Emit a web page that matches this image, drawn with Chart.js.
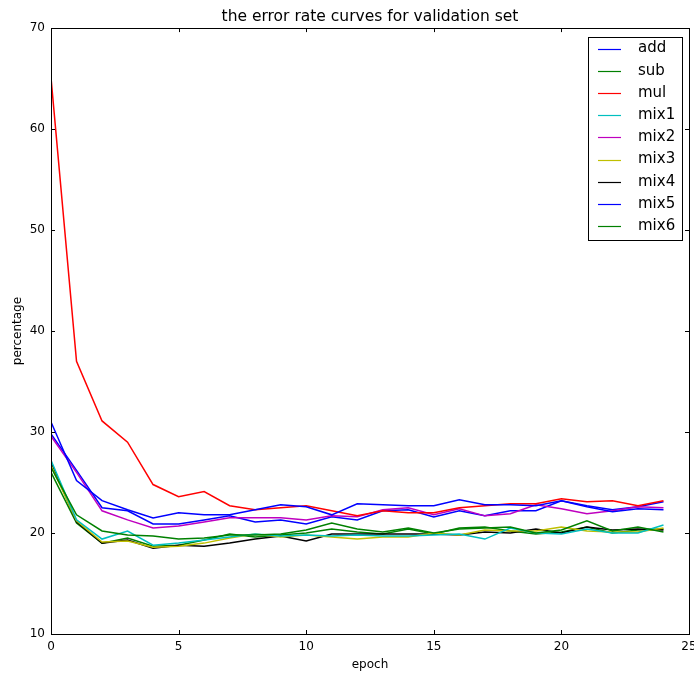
<!DOCTYPE html>
<html>
<head>
    <title>Error Rate Curves</title>
    <script src="https://cdn.jsdelivr.net/npm/chart.js"></script>
    <style>
        body { margin: 0; background: #fff; }
    </style>
</head>
<body>
    <canvas id="errChart" width="694" height="673"></canvas>

    <script>
        const epochs = [0,1,2,3,4,5,6,7,8,9,10,11,12,13,14,15,16,17,18,19,20,21,22,23,24];
        const xTicks = [0, 5, 10, 15, 20, 25];
        const yTicks = [10, 20, 30, 40, 50, 60, 70];

        const add  = [31.0,25.2,23.2,22.3,21.5,22.0,21.8,21.8,22.3,22.8,22.6,21.8,22.9,22.8,22.7,22.7,23.3,22.8,22.8,22.7,23.2,22.6,22.1,22.4,22.3];
        const sub  = [26.5,21.8,20.2,19.8,19.7,19.4,19.5,19.8,19.8,19.9,20.3,21.0,20.4,20.1,20.5,20.0,20.4,20.5,20.6,20.0,20.3,21.2,20.2,20.6,20.1];
        const mul  = [65.1,37.0,31.1,29.0,24.8,23.6,24.1,22.7,22.3,22.5,22.7,22.2,21.7,22.2,22.0,22.0,22.5,22.7,22.9,22.9,23.4,23.1,23.2,22.7,23.2];
        const mix1 = [27.2,21.3,19.4,20.2,18.8,19.0,19.3,19.6,19.9,19.7,19.8,19.7,19.8,19.7,19.7,19.8,19.9,19.4,20.5,20.0,19.9,20.4,20.0,20.0,20.8];
        const mix2 = [29.6,26.0,22.2,21.3,20.5,20.7,21.1,21.5,21.5,21.5,21.3,21.7,21.6,22.3,22.5,21.8,22.4,21.7,21.9,22.8,22.4,21.9,22.2,22.6,22.5];
        const mix3 = [26.7,21.2,19.1,19.2,18.6,18.7,19.0,19.5,19.9,19.6,19.8,19.6,19.4,19.6,19.6,20.0,19.8,20.3,20.2,20.2,20.6,20.2,20.1,20.1,20.5];
        const mix4 = [27.0,21.1,19.0,19.3,18.5,18.8,18.7,19.0,19.4,19.7,19.2,19.9,19.9,19.9,19.9,19.9,19.8,20.1,20.0,20.4,20.0,20.6,20.3,20.4,20.3];
        const mix5 = [29.8,26.2,22.5,22.2,20.9,20.9,21.3,21.7,21.1,21.3,20.9,21.6,21.3,22.2,22.3,21.6,22.2,21.7,22.2,22.2,23.2,22.7,22.3,22.6,23.1];
        const mix6 = [26.0,21.0,19.0,19.5,18.7,18.8,19.3,19.9,19.6,19.8,20.0,20.4,20.1,19.9,20.4,19.9,20.5,20.6,20.2,19.9,20.1,20.6,20.0,20.3,20.4];

        const seriesNames = ['add', 'sub', 'mul', 'mix1', 'mix2', 'mix3', 'mix4', 'mix5', 'mix6'];
        const seriesValues = [add, sub, mul, mix1, mix2, mix3, mix4, mix5, mix6];
        const colors = ['#0000ff', '#008000', '#ff0000', '#00bfbf', '#bf00bf', '#bfbf00', '#000000', '#0000ff', '#008000'];

        const fontFamily = '"DejaVu Sans", sans-serif';

        // frame on all four sides plus inward ticks, matplotlib style
        const framePlugin = {
            id: 'frame',
            afterDraw(chart) {
                const ctx = chart.ctx;
                const a = chart.chartArea;
                const xs = chart.scales.x;
                const ys = chart.scales.y;
                ctx.save();
                ctx.strokeStyle = '#000';
                ctx.lineWidth = 1;
                ctx.strokeRect(Math.round(a.left) + 0.5, Math.round(a.top) + 0.5,
                    Math.round(a.right - a.left), Math.round(a.bottom - a.top));
                ctx.beginPath();
                xTicks.forEach(v => {
                    const px = Math.round(xs.getPixelForValue(v)) + 0.5;
                    ctx.moveTo(px, a.bottom); ctx.lineTo(px, a.bottom - 4);
                    ctx.moveTo(px, a.top); ctx.lineTo(px, a.top + 4);
                });
                yTicks.forEach(v => {
                    const py = Math.round(ys.getPixelForValue(v)) + 0.5;
                    ctx.moveTo(a.left, py); ctx.lineTo(a.left + 4, py);
                    ctx.moveTo(a.right, py); ctx.lineTo(a.right - 4, py);
                });
                ctx.stroke();

                // legend box
                const bx = 588, by = 37, bw = 94, bh = 203;
                ctx.fillStyle = '#fff';
                ctx.fillRect(bx, by, bw, bh);
                ctx.strokeStyle = '#000';
                ctx.strokeRect(bx + 0.5, by + 0.5, bw, bh);
                ctx.font = '15px ' + fontFamily;
                ctx.textBaseline = 'middle';
                ctx.textAlign = 'left';
                chart.data.datasets.forEach((ds, i) => {
                    const y = by + 11.5 + i * 22.2;
                    ctx.strokeStyle = ds.borderColor;
                    ctx.lineWidth = 1.2;
                    ctx.beginPath();
                    ctx.moveTo(598, Math.round(y) + 0.5);
                    ctx.lineTo(621, Math.round(y) + 0.5);
                    ctx.stroke();
                    ctx.fillStyle = '#000';
                    ctx.fillText(ds.label, 638, y);
                });
                ctx.restore();
            }
        };

        const ctx = document.getElementById('errChart').getContext('2d');
        const errChart = new Chart(ctx, {
            type: 'line',
            data: {
                datasets: seriesNames.map((name, i) => ({
                    label: name,
                    data: epochs.map((e, j) => ({ x: e, y: seriesValues[i][j] })),
                    borderColor: colors[i],
                    backgroundColor: colors[i],
                    borderWidth: 1.5,
                    pointRadius: 0,
                    tension: 0,
                    fill: false
                }))
            },
            options: {
                responsive: false,
                animation: false,
                layout: { padding: { top: 0, right: 5, bottom: 0, left: 0 } },
                plugins: {
                    legend: { display: false },
                    tooltip: { enabled: false },
                    title: {
                        display: true,
                        fullSize: false,
                        text: 'the error rate curves for validation set',
                        color: '#000',
                        font: { family: fontFamily, size: 15.5, weight: 'normal' },
                        padding: { top: 8, bottom: 1.5 }
                    }
                },
                scales: {
                    x: {
                        type: 'linear',
                        min: 0,
                        max: 25,
                        grid: { display: false, drawTicks: false },
                        border: { display: false },
                        ticks: {
                            stepSize: 5,
                            padding: 6,
                            color: '#000',
                            font: { family: fontFamily, size: 12 }
                        },
                        title: {
                            display: true,
                            text: 'epoch',
                            color: '#000',
                            font: { family: fontFamily, size: 12 },
                            padding: { top: 0, bottom: 1 }
                        },
                        afterFit(scale) {
                            scale.height = 39;
                            scale.paddingLeft = 0;
                            scale.paddingRight = 0;
                        }
                    },
                    y: {
                        min: 10,
                        max: 70,
                        grid: { display: false, drawTicks: false },
                        border: { display: false },
                        ticks: {
                            stepSize: 10,
                            padding: 6,
                            color: '#000',
                            font: { family: fontFamily, size: 12 }
                        },
                        title: {
                            display: true,
                            text: 'percentage',
                            color: '#000',
                            font: { family: fontFamily, size: 12 },
                            padding: { top: 11, bottom: 0 }
                        },
                        afterFit(scale) {
                            scale.width = 51;
                            scale.paddingTop = 0;
                            scale.paddingBottom = 0;
                        }
                    }
                }
            },
            plugins: [framePlugin]
        });
    </script>
</body>
</html>
